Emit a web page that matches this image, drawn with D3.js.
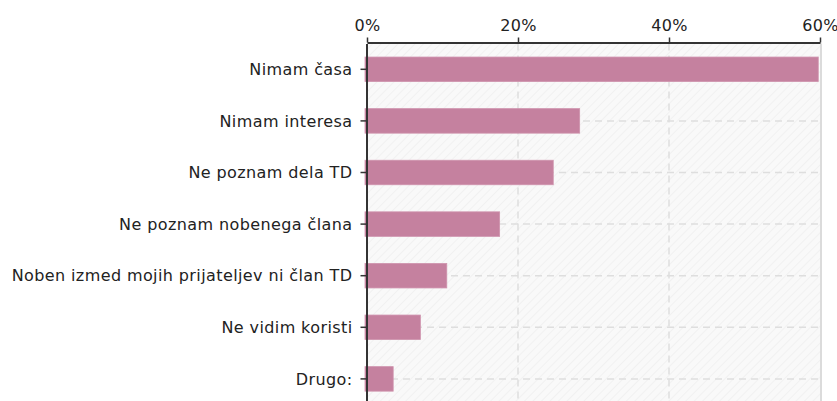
<!DOCTYPE html>
<html><head><meta charset="utf-8">
<script src="https://cdn.jsdelivr.net/npm/d3@7"></script>
<style>
html,body{margin:0;padding:0;background:#fff;}
svg{display:block;}
text{font-family:"DejaVu Sans",sans-serif;font-size:16px;fill:#222;letter-spacing:0.4px;}
</style></head>
<body>
<svg id="chart" width="837" height="401"></svg>
<script>
const categories = ["Nimam časa","Nimam interesa","Ne poznam dela TD","Ne poznam nobenega člana","Noben izmed mojih prijateljev ni član TD","Ne vidim koristi","Drugo:"];
const values = [59.9, 28.3, 24.8, 17.7, 10.7, 7.2, 3.6];
const xTicks = [0, 20, 40, 60];

(function(){
const W = 837, H = 401;
const pLeft = 367, pRight = 820, pTop = 43.5;
const step = 51.6;
const pBottom = pTop + step * categories.length;

const svg = d3.select("#chart");
const x = d3.scaleLinear().domain([0, 60]).range([pLeft, pRight]);
const y = d3.scaleBand().domain(categories).range([pTop, pBottom]).paddingInner(0.525).paddingOuter(0.2625);

const defs = svg.append("defs");
const pat = defs.append("pattern").attr("id","hatch").attr("patternUnits","userSpaceOnUse")
  .attr("width",6).attr("height",6).attr("patternTransform","rotate(45)");
pat.append("rect").attr("width",6).attr("height",6).attr("fill","#f9f9f9");
pat.append("line").attr("x1",0).attr("y1",0).attr("x2",0).attr("y2",6).attr("stroke","#ececec").attr("stroke-width",1.2);

svg.append("rect").attr("x",pLeft).attr("y",pTop).attr("width",pRight-pLeft).attr("height",pBottom-pTop).attr("fill","url(#hatch)");

const grid = svg.append("g");
grid.selectAll("line.v").data(xTicks.filter(d=>d>0 && d<60)).join("line").attr("class","v")
  .attr("x1",d=>x(d)).attr("x2",d=>x(d)).attr("y1",pTop).attr("y2",pBottom)
  .attr("stroke","#dedede").attr("stroke-width",1.5).attr("stroke-dasharray","7,5");
grid.selectAll("line.h").data(categories).join("line").attr("class","h")
  .attr("x1",pLeft).attr("x2",pRight).attr("y1",d=>y(d)+y.bandwidth()/2).attr("y2",d=>y(d)+y.bandwidth()/2)
  .attr("stroke","#dedede").attr("stroke-width",1.5).attr("stroke-dasharray","7,5");
svg.append("line").attr("x1",pRight+1).attr("x2",pRight+1).attr("y1",pTop).attr("y2",pBottom)
  .attr("stroke","#cfcfcf").attr("stroke-width",1.5);

svg.append("g").selectAll("rect").data(categories).join("rect")
  .attr("x", x(0)-2).attr("y", d=>y(d))
  .attr("width", (d,i)=>x(values[i])-x(0)+1).attr("height", y.bandwidth())
  .attr("fill","#c5819f").attr("stroke","#cf93ad").attr("stroke-width",0.8);

const xAxis = d3.axisTop(x).tickValues(xTicks).tickFormat(d=>d+"%").tickSizeInner(5).tickSizeOuter(0).tickPadding(7);
const gx = svg.append("g").attr("transform",`translate(0,${pTop-1})`).call(xAxis);
gx.select(".domain").attr("stroke","#333").attr("stroke-width",2);
gx.selectAll(".tick line").attr("stroke","#333").attr("stroke-width",1.5);
gx.selectAll("text").attr("fill","#222").style("font-family","DejaVu Sans").style("font-size","16px");

const yAxis = d3.axisLeft(y).tickSizeInner(6).tickSizeOuter(0).tickPadding(8);
const gy = svg.append("g").attr("transform",`translate(${pLeft-0.5},0)`).call(yAxis);
gy.select(".domain").attr("stroke","#333").attr("stroke-width",2);
gy.selectAll(".tick line").attr("stroke","#333").attr("stroke-width",1.5);
gy.selectAll("text").attr("fill","#222").attr("dy","0.36em").style("font-family","DejaVu Sans").style("font-size","16px");
})();
</script>
</body></html>
